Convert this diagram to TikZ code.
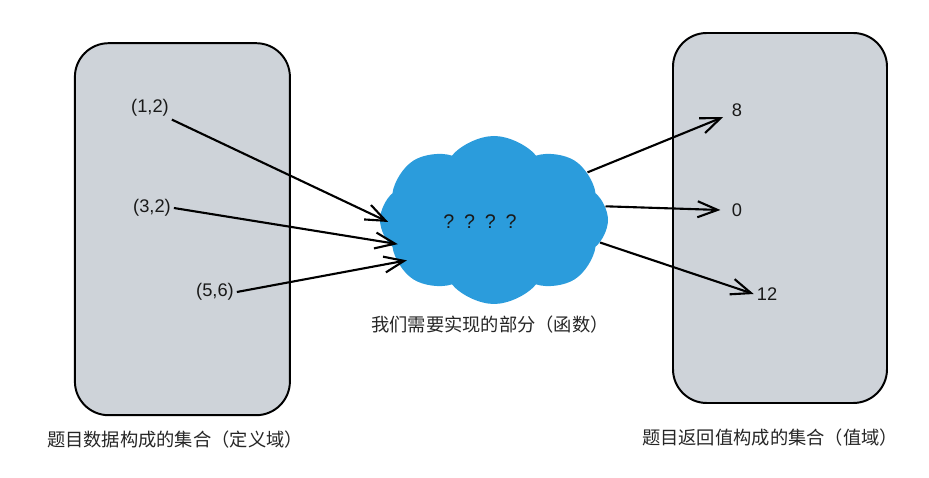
\documentclass[tikz,border=0pt]{standalone}
\usepackage{fontspec}
\setmainfont{Liberation Sans}
\newfontfamily\cjk{Noto Sans CJK SC}
\usetikzlibrary{arrows.meta,shapes.symbols}
\definecolor{setgray}{HTML}{CED3D9}
\definecolor{cloudblue}{HTML}{2B9CDC}
\tikzset{>={Straight Barb[length=5mm,width=4mm]}}

\begin{document}
\begin{tikzpicture}[
  setbox/.style={rectangle, rounded corners=24pt, draw=black, fill=setgray,
    line width=1.4pt},
  blob/.style={cloud, cloud puffs=8, cloud puff arc=100, aspect=1.35,
    fill=cloudblue, draw=none, minimum width=5.7cm, minimum height=4.2cm},
  val/.style={font=\fontsize{13}{15}\selectfont, text=black!90, inner sep=2pt},
  captext/.style={font=\cjk\fontsize{13}{15}\selectfont, text=black!85},
  maparrow/.style={->, line width=1.5pt, color=black}
]
\useasboundingbox (0,0) rectangle (23.225,11.95);

% ---------- Sets ----------
\node[setbox, minimum width=5.375cm, minimum height=9.3cm] (domain) at (4.56,6.22) {};
\node[setbox, minimum width=5.35cm, minimum height=9.25cm] (range) at (19.5,6.5) {};

% ---------- Function cloud ----------
\node[blob] (func) at (12.35,6.45) {};
\node[val, font=\fontsize{14}{16}\selectfont] (qmarks) at (12.0,6.4)
  {?\enspace?\enspace?\enspace?};
\node[captext] (funclbl) at (12.25,3.83) {我们需要实现的部分（函数）};

% ---------- Inputs ----------
\node[val] (p12) at (3.75,9.25) {(1,2)};
\node[val] (p32) at (3.8,6.75) {(3,2)};
\node[val] (p56) at (5.375,4.65) {(5,6)};

% ---------- Outputs ----------
\node[val] (v8) at (18.425,9.2) {8};
\node[val] (v0) at (18.425,6.7) {0};
\node[val] (v12) at (19.175,4.6) {12};

% ---------- Captions ----------
\node[captext] (domainlbl) at (4.375,0.95) {题目数据构成的集合（定义域）};
\node[captext] (rangelbl) at (19.25,1.0) {题目返回值构成的集合（值域）};

% ---------- Mapping arrows ----------
\draw[maparrow] (p12.south east) -- ([xshift=6pt]func.181);
\draw[maparrow] (p32.east) -- ([xshift=6pt]func.193);
\draw[maparrow] (p56.east) -- ([xshift=6pt,yshift=3pt]func.205);

\draw[maparrow] (func.27) -- ([xshift=-4pt,yshift=-5pt]v8.west);
\draw[maparrow] (func.7) -- ([xshift=-6pt]v0.west);
\draw[maparrow] (func.348) -- (v12.west);

\end{tikzpicture}
\end{document}
